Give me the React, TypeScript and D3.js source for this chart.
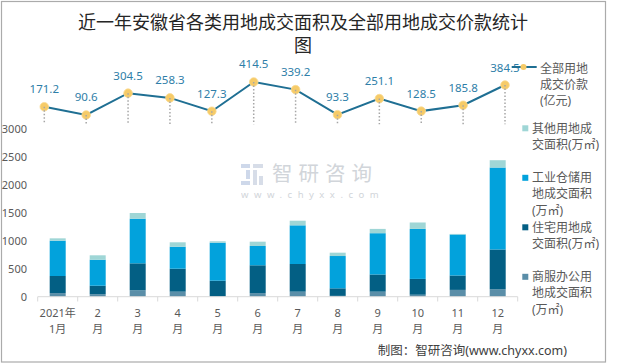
import { useEffect, useRef } from 'react';
import * as d3 from 'd3';

const months = ['1月', '2月', '3月', '4月', '5月', '6月', '7月', '8月', '9月', '10月', '11月', '12月'];
const tickTop = ['2021年', '2', '3', '4', '5', '6', '7', '8', '9', '10', '11', '12'];
const tickBottom = ['1月', '月', '月', '月', '月', '月', '月', '月', '月', '月', '月', '月'];

// 成交面积 (万㎡)
const commercial = [65, 45, 115, 90, 5, 65, 90, 15, 90, 35, 122, 134];
const residential = [306, 152, 483, 412, 282, 498, 496, 135, 308, 284, 258, 712];
const industrial = [633, 466, 800, 394, 681, 346, 693, 579, 740, 896, 735, 1469];
const other = [42, 79, 102, 79, 25, 77, 83, 60, 77, 115, 10, 131];

// 全部用地成交价款 (亿元)
const landPrice = [171.2, 90.6, 304.5, 258.3, 127.3, 414.5, 339.2, 93.3, 251.1, 128.5, 185.8, 384.5];

const yTicks = [0, 500, 1000, 1500, 2000, 2500, 3000];

const titleLines = ['近一年安徽省各类用地成交面积及全部用地成交价款统计', '图'];

const legendItems = [
  { key: 'other', lines: ['其他用地成', '交面积(万㎡)'], color: '#9FD6D6' },
  { key: 'industrial', lines: ['工业仓储用', '地成交面积', '(万㎡)'], color: '#02A2DC' },
  { key: 'residential', lines: ['住宅用地成', '交面积(万㎡)'], color: '#035F84' },
  { key: 'commercial', lines: ['商服办公用', '地成交面积', '(万㎡)'], color: '#5A8EA8' }
];

const FONT = '"Noto Sans", "Noto Sans CJK SC", sans-serif';
const TEXT = '#595959';

export default function App() {
  const svgRef = useRef<SVGSVGElement>(null);

  useEffect(() => {
    if (!svgRef.current) return;
    const svg = d3.select(svgRef.current);
    svg.selectAll('*').remove();

    const width = 620;
    const height = 364;
    svg.attr('width', width).attr('height', height);

    svg.append('rect')
      .attr('width', width).attr('height', height).attr('fill', '#fff');

    // frame
    svg.append('rect')
      .attr('x', 1.5).attr('y', 1.5)
      .attr('width', 604).attr('height', 360.5)
      .attr('fill', 'none').attr('stroke', '#ABABAB').attr('stroke-width', 1.2);

    // title, two lines
    titleLines.forEach((s, j) => {
      svg.append('text')
        .attr('x', 303)
        .attr('y', 29 + j * 23)
        .attr('text-anchor', 'middle')
        .style('font-family', '"Noto Sans CJK SC", sans-serif')
        .style('font-size', '18px')
        .style('fill', '#262626')
        .text(s);
    });

    // watermark
    const wm = svg.append('g').attr('opacity', 0.9);
    wm.append('rect').attr('x', 241).attr('y', 164).attr('width', 9).attr('height', 4).attr('fill', '#C9D4E8');
    wm.append('rect').attr('x', 246).attr('y', 170).attr('width', 4).attr('height', 9).attr('fill', '#C9D4E8');
    wm.append('rect').attr('x', 241).attr('y', 181).attr('width', 9).attr('height', 4).attr('fill', '#C9D4E8');
    wm.append('rect').attr('x', 253).attr('y', 164).attr('width', 10).attr('height', 4).attr('fill', '#D3DAE6');
    wm.append('rect').attr('x', 253).attr('y', 170).attr('width', 4).attr('height', 15).attr('fill', '#D3DAE6');
    wm.append('rect').attr('x', 259).attr('y', 176).attr('width', 4).attr('height', 9).attr('fill', '#D3DAE6');
    wm.append('text')
      .attr('x', 272).attr('y', 181)
      .style('font-family', '"Noto Sans CJK SC", sans-serif')
      .style('font-size', '20.5px')
      .style('letter-spacing', '6px')
      .style('fill', '#CDD1D6')
      .text('智研咨询');
    wm.append('text')
      .attr('x', 241).attr('y', 198)
      .style('font-family', FONT)
      .style('font-size', '9.5px')
      .style('letter-spacing', '5.5px')
      .style('fill', '#CDD1D6')
      .text('www.chyxx.com');

    // bars
    const x = d3.scaleBand<string>()
      .domain(months)
      .range([37.7, 517.7])
      .paddingInner(0.6)
      .paddingOuter(0.3);

    const y = d3.scaleLinear().domain([0, 3000]).range([296.7, 129.3]);

    const rows = months.map((m, i) => ({
      month: m,
      commercial: commercial[i],
      residential: residential[i],
      industrial: industrial[i],
      other: other[i]
    }));

    const stack = d3.stack<any>().keys(['commercial', 'residential', 'industrial', 'other']);
    const colorOf: Record<string, string> = {};
    legendItems.forEach(l => { colorOf[l.key] = l.color; });

    stack(rows).forEach(layer => {
      svg.append('g')
        .attr('fill', colorOf[layer.key])
        .selectAll('rect')
        .data(layer)
        .enter().append('rect')
        .attr('x', d => x(d.data.month) as number)
        .attr('y', d => y(d[1]))
        .attr('width', x.bandwidth())
        .attr('height', d => y(d[0]) - y(d[1]));
    });

    // x axis
    svg.append('line')
      .attr('x1', 37.7).attr('x2', 517.7)
      .attr('y1', 296.7).attr('y2', 296.7)
      .attr('stroke', '#D9D9D9').attr('stroke-width', 1);

    const step = x.step();
    d3.range(13).forEach(i => {
      const tx = 37.7 + i * step;
      svg.append('line')
        .attr('x1', tx).attr('x2', tx)
        .attr('y1', 296.7).attr('y2', 301.5)
        .attr('stroke', '#D9D9D9');
    });

    months.forEach((m, i) => {
      const cx = (x(m) as number) + x.bandwidth() / 2;
      const t = svg.append('text')
        .attr('text-anchor', 'middle')
        .style('font-family', FONT)
        .style('font-size', '11px')
        .style('fill', TEXT);
      t.append('tspan').attr('x', cx).attr('y', 316.5).text(tickTop[i]);
      t.append('tspan').attr('x', cx).attr('y', 332.5).text(tickBottom[i]);
    });

    // y axis labels
    svg.append('g')
      .selectAll('text')
      .data(yTicks)
      .enter().append('text')
      .attr('x', 27)
      .attr('y', d => y(d))
      .attr('dy', '0.35em')
      .attr('text-anchor', 'end')
      .style('font-family', FONT)
      .style('font-size', '11px')
      .style('fill', TEXT)
      .text(d => d);

    // price line (separate plot on top)
    const xl = d3.scalePoint<string>().domain(months).range([44.3, 505]);
    const yl = d3.scaleLinear().domain([0, 450]).range([124.2, 78.35]);

    const line = d3.line<number>()
      .x((_, i) => xl(months[i]) as number)
      .y(d => yl(d));

    svg.append('path')
      .datum(landPrice)
      .attr('fill', 'none')
      .attr('stroke', '#1F6F93')
      .attr('stroke-width', 2)
      .attr('d', line);

    svg.append('g')
      .selectAll('circle')
      .data(landPrice)
      .enter().append('circle')
      .attr('cx', (_, i) => xl(months[i]) as number)
      .attr('cy', d => yl(d))
      .attr('r', 4.3)
      .attr('fill', '#F6CB68')
      .attr('stroke', '#FADB93')
      .attr('stroke-width', 0.8);

    svg.append('g')
      .selectAll('line')
      .data(landPrice)
      .enter().append('line')
      .attr('x1', (_, i) => xl(months[i]) as number)
      .attr('x2', (_, i) => xl(months[i]) as number)
      .attr('y1', d => yl(d))
      .attr('y2', yl(0))
      .attr('stroke', '#A6A6A6')
      .attr('stroke-width', 1.5)
      .attr('stroke-dasharray', '1.5,2');

    svg.append('g')
      .selectAll('text')
      .data(landPrice)
      .enter().append('text')
      .attr('x', (_, i) => xl(months[i]) as number)
      .attr('y', d => yl(d) - 13.5)
      .attr('text-anchor', 'middle')
      .style('font-family', FONT)
      .style('font-size', '11.5px')
      .style('fill', '#2E7EA8')
      .text(d => d.toFixed(1));

    // line legend
    const ll = svg.append('g');
    ll.append('line')
      .attr('x1', 511.7).attr('x2', 536.7).attr('y1', 67).attr('y2', 67)
      .attr('stroke', '#1F6F93').attr('stroke-width', 2);
    ll.append('circle')
      .attr('cx', 523.5).attr('cy', 67).attr('r', 3)
      .attr('fill', '#F6CB68');
    ['全部用地', '成交价款', '(亿元)'].forEach((s, j) => {
      ll.append('text')
        .attr('x', 540).attr('y', 68.3 + j * 16)
        .attr('dy', '0.35em')
        .style('font-family', FONT)
        .style('font-size', '12px')
        .style('fill', TEXT)
        .text(s);
    });

    // bar legend
    legendItems.forEach((item, i) => {
      const top = 128.3 + i * 49.5;
      const g = svg.append('g');
      g.append('rect')
        .attr('x', 522.3).attr('y', top - 3)
        .attr('width', 6).attr('height', 6)
        .attr('fill', item.color);
      item.lines.forEach((s, j) => {
        g.append('text')
          .attr('x', 532).attr('y', top + j * 16.3)
          .attr('dy', '0.35em')
          .style('font-family', FONT)
          .style('font-size', '12px')
          .style('fill', TEXT)
          .text(s);
      });
    });

    // source
    svg.append('text')
      .attr('x', 567).attr('y', 355)
      .attr('text-anchor', 'end')
      .style('font-family', FONT)
      .style('font-size', '12.5px')
      .style('fill', '#404040')
      .text('制图：智研咨询(www.chyxx.com)');
  }, []);

  return (
    <div style={{ position: 'absolute', left: 0, top: 0 }}>
      <svg ref={svgRef}></svg>
    </div>
  );
}
